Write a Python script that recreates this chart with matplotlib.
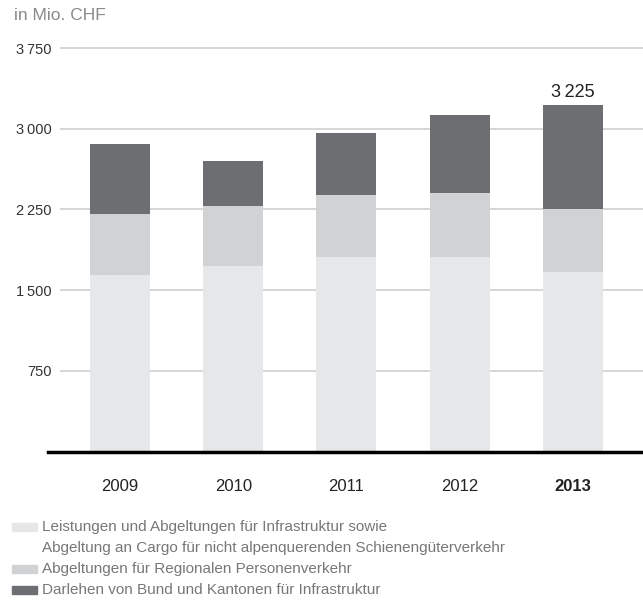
import matplotlib.pyplot as plt
from matplotlib.patches import Rectangle
import numpy as np

plt.rcParams['font.family'] = ['Liberation Sans', 'DejaVu Sans']

years = ['2009', '2010', '2011', '2012', '2013']
infra = [1640, 1720, 1805, 1805, 1665]
regional = [565, 560, 577, 596, 587]
darlehen = [652, 418, 577, 725, 973]
total_label = '3\u2009225'
yticks = [750, 1500, 2250, 3000, 3750]
ytick_labels = ['750', '1\u2009500', '2\u2009250', '3\u2009000', '3\u2009750']
legend_labels = ['Leistungen und Abgeltungen für Infrastruktur sowie\nAbgeltung an Cargo für nicht alpenquerenden Schienengüterverkehr',
                 'Abgeltungen für Regionalen Personenverkehr',
                 'Darlehen von Bund und Kantonen für Infrastruktur']
colors = ['#e6e7e8', '#d1d2d4', '#6d6e71']

W, H = 643, 608
fig = plt.figure(figsize=(W / 100, H / 100), dpi=100)
ax_bottom = (H - 451.5) / H
ax_top = (H - 44.8) / H
ax = fig.add_axes([60 / W, ax_bottom, (W - 60) / W, ax_top - ax_bottom])

x = np.arange(len(years))
infra = np.array(infra)
regional = np.array(regional)
darlehen = np.array(darlehen)
bw = 0.53
ax.bar(x, infra, bw, color=colors[0], zorder=2)
ax.bar(x, regional, bw, bottom=infra, color=colors[1], zorder=2)
ax.bar(x, darlehen, bw, bottom=infra + regional, color=colors[2], zorder=2)

ax.set_xlim(-0.53, 4.62)
ax.set_ylim(0, 3780)
for t in yticks:
    ax.axhline(t, color='#cfcfcf', lw=1.2, zorder=1)
ax.set_yticks(yticks)
ax.set_yticklabels(ytick_labels, fontsize=10.5, color='#333333')
ax.tick_params(axis='y', length=0, pad=6)
ax.set_xticks(x)
ax.set_xticklabels(years, fontsize=12, color='#222222')
ax.get_xticklabels()[-1].set_fontweight('bold')
ax.tick_params(axis='x', length=0, pad=20)
for s in ax.spines.values():
    s.set_visible(False)
ax.axhline(0, xmin=-12 / (W - 60), xmax=1, color='black', lw=2.5, zorder=3, clip_on=False)

tot = infra[-1] + regional[-1] + darlehen[-1]
ax.text(x[-1], tot + 30, total_label, ha='center', va='bottom', fontsize=13, color='#222222')

fig.text(14 / W, 1 - 16 / H, 'in Mio. CHF', fontsize=12.5, color='#8a8a8a', va='center', ha='left')

ys = [527, 569, 590]
for lab, c, yy in zip(legend_labels, colors, ys):
    fig.patches.append(Rectangle((12 / W, 1 - (yy + 4) / H), 25 / W, 8 / H,
                                 transform=fig.transFigure, color=c))
    fig.text(42 / W, 1 - (yy - 7) / H, lab, fontsize=11, color='#777777',
             va='top', ha='left', linespacing=1.65)

fig.savefig('out.png', dpi=100)
